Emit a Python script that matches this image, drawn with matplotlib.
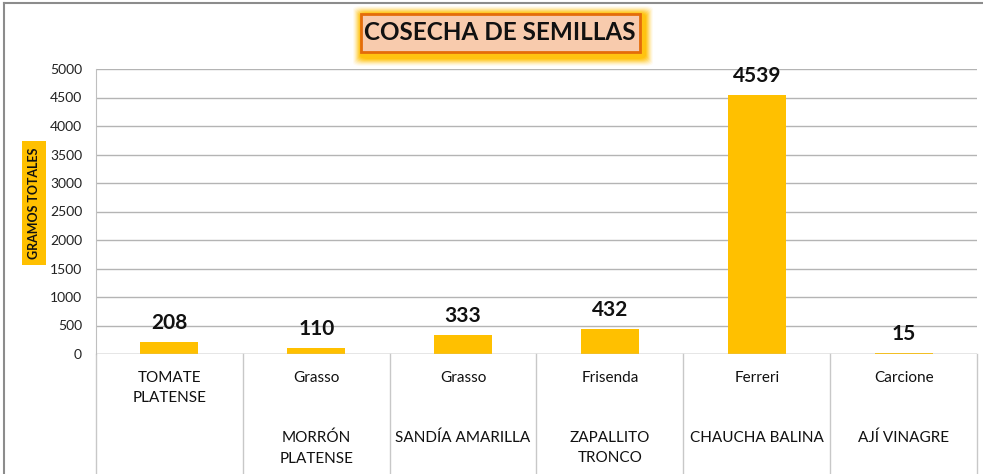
import matplotlib.pyplot as plt
from matplotlib.patches import Rectangle, FancyBboxPatch
from matplotlib.lines import Line2D

plt.rcParams['font.family'] = ['Lato', 'DejaVu Sans']

# data
productos = ['TOMATE\nPLATENSE', 'MORRÓN\nPLATENSE', 'SANDÍA AMARILLA',
             'ZAPALLITO\nTRONCO', 'CHAUCHA BALINA', 'AJÍ VINAGRE']
productores = ['', 'Grasso', 'Grasso', 'Frisenda', 'Ferreri', 'Carcione']
gramos = [208, 110, 333, 432, 4539, 15]
y_ticks = [0, 500, 1000, 1500, 2000, 2500, 3000, 3500, 4000, 4500, 5000]

W, H = 983, 474
bar_col = '#FFC000'

fig = plt.figure(figsize=(W / 100, H / 100), dpi=100)
ax = fig.add_axes([96 / W, (H - 354) / H, (977 - 96) / W, (354 - 69) / H])

x = list(range(len(gramos)))
ax.bar(x, gramos, width=0.395, color=bar_col, zorder=3)
ax.set_xlim(-0.5, len(gramos) - 0.5)
ax.set_ylim(0, 5000)
ax.set_yticks(y_ticks)
ax.set_yticklabels([str(t) for t in y_ticks], fontsize=10, color='#222222')
ax.tick_params(axis='y', length=0, pad=10)
ax.set_xticks([])
for s in ['top', 'right', 'bottom']:
    ax.spines[s].set_visible(False)
ax.spines['left'].set_color('#BFBFBF')
ax.grid(axis='y', color='#B4B4B4', lw=1, zorder=0)
ax.axhline(0, color='#BFBFBF', lw=1, zorder=4)

# value labels
for xi, v in zip(x, gramos):
    ax.annotate(str(v), (xi, v), xytext=(0, 9), textcoords='offset pixels',
                ha='center', va='bottom', fontsize=15, fontweight='bold',
                color='#111111')

# category separators below the axis
xt = ax.get_xaxis_transform()
for b in [i - 0.5 for i in range(len(gramos) + 1)]:
    ax.add_line(Line2D([b, b], [0, -0.45], transform=xt, color='#C8C8C8',
                       lw=1, clip_on=False))

# category labels (two rows)
for i in x:
    if productores[i]:
        ax.annotate(productores[i], (i, 0), xycoords=xt, xytext=(0, -24),
                    textcoords='offset pixels', ha='center', va='center',
                    fontsize=11, color='#111111')
        ax.annotate(productos[i], (i, 0), xycoords=xt, xytext=(0, -77),
                    textcoords='offset pixels', ha='center', va='top',
                    fontsize=11, color='#111111', linespacing=1.55)
    else:
        ax.annotate(productos[i], (i, 0), xycoords=xt, xytext=(0, -17),
                    textcoords='offset pixels', ha='center', va='top',
                    fontsize=11, color='#111111', linespacing=1.55)

# y axis title with highlight
fig.text(34 / W, 1 - 203 / H, 'GRAMOS TOTALES', rotation=90, ha='center',
         va='center', fontsize=9, fontweight='bold', color='#111111',
         bbox=dict(boxstyle='square,pad=0.5', fc=bar_col, ec='none'))

# title box with yellow glow
cx, cy = 500 / W, 1 - 33 / H
for k, a in zip(range(8, 0, -1), [0.06, 0.09, 0.13, 0.18, 0.25, 0.33, 0.45, 0.6]):
    fig.patches.append(FancyBboxPatch(
        ((361 - k) / W, (H - 58 - k) / H), (284 + 2 * k) / W,
        (44 + 2 * k) / H, boxstyle='round,pad=0,rounding_size=0.008',
        transform=fig.transFigure, fc='#FFC000', ec='none', alpha=a))
fig.patches.append(Rectangle((361 / W, (H - 52) / H), 279 / W, 38 / H,
                             transform=fig.transFigure, fc='#F8CBAD',
                             ec='#E46C0A', lw=2))
fig.text(cx, cy, 'COSECHA DE SEMILLAS', ha='center', va='center',
         fontsize=17.5, fontweight='bold', color='#111111')

# outer chart frame
fig.lines.append(Line2D([4 / W, 4 / W], [0, 1 - 3 / H], transform=fig.transFigure,
                        color='#8C8C8C', lw=1.5))
fig.lines.append(Line2D([4 / W, 1], [1 - 3 / H, 1 - 3 / H],
                        transform=fig.transFigure, color='#8C8C8C', lw=1.5))

fig.savefig('out.png', dpi=100)
